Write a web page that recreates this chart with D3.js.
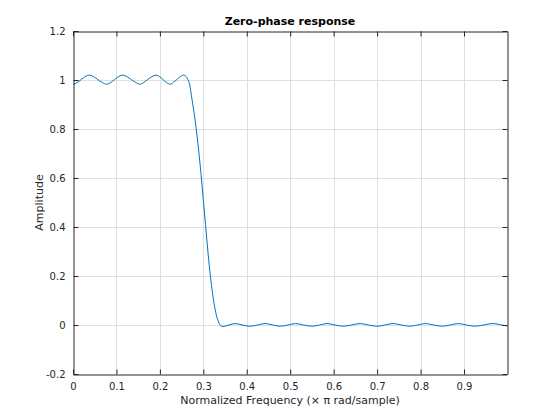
<!DOCTYPE html>
<html><head><meta charset="utf-8">
<script src="https://cdn.jsdelivr.net/npm/d3@7"></script>
<style>body{margin:0;background:#fff}</style>
</head><body>
<svg id="c" width="560" height="420"></svg>
<script>
const freq = [0,0.010,0.019,0.028,0.0376,0.047,0.057,0.067,0.0776,0.087,0.096,0.105,0.114,0.124,0.134,0.144,0.154,0.163,0.172,0.182,0.191,0.199,0.207,0.215,0.2235,0.231,0.239,0.247,0.254,0.260,0.264,0.268,0.274,0.280,0.285,0.290,0.295,0.300,0.305,0.310,0.315,0.320,0.325,0.330,0.335,0.340,0.345,0.359,0.373,0.390,0.407,0.425,0.442,0.460,0.477,0.495,0.512,0.531,0.550,0.568,0.585,0.603,0.622,0.641,0.661,0.680,0.700,0.718,0.737,0.756,0.775,0.793,0.811,0.830,0.850,0.868,0.887,0.906,0.925,0.945,0.965,0.982,0.999];
const amplitude = [0.982,0.990,1.002,1.014,1.020,1.014,1.002,0.990,0.983,0.990,1.002,1.014,1.020,1.014,1.002,0.990,0.983,0.990,1.002,1.014,1.020,1.014,1.002,0.990,0.983,0.990,1.002,1.014,1.020,1.015,1.003,0.985,0.920,0.850,0.780,0.700,0.610,0.510,0.410,0.310,0.220,0.145,0.085,0.040,0.012,-0.003,-0.006,0.000,0.006,0.000,-0.005,0.000,0.006,0.000,-0.005,0.000,0.006,0.000,-0.005,0.000,0.006,0.000,-0.005,0.000,0.006,0.000,-0.005,0.000,0.006,0.000,-0.005,0.000,0.006,0.000,-0.005,0.000,0.006,0.000,-0.005,0.000,0.006,0.002,-0.004];
const xTicks = [0,0.1,0.2,0.3,0.4,0.5,0.6,0.7,0.8,0.9];
const yTicks = [-0.2,0,0.2,0.4,0.6,0.8,1,1.2];
const xTickLabels = ["0","0.1","0.2","0.3","0.4","0.5","0.6","0.7","0.8","0.9"];
const yTickLabels = ["-0.2","0","0.2","0.4","0.6","0.8","1","1.2"];
const titleText = "Zero-phase response";
const xLabel = "Normalized Frequency (\u00d7 \u03c0 rad/sample)";
const yLabel = "Amplitude";

const L=73,R=507,T=31,B=374;
const svg=d3.select("#c");
const font="DejaVu Sans, sans-serif";
const x=d3.scaleLinear().domain([0,0.999]).range([L,R]);
const y=d3.scaleLinear().domain([-0.2,1.2]).range([B,T]);

// grid
const g=svg.append("g");
g.selectAll(".gx").data(xTicks.slice(1)).join("line")
 .attr("x1",d=>Math.round(x(d))+0.5).attr("x2",d=>Math.round(x(d))+0.5)
 .attr("y1",T).attr("y2",B).attr("stroke","#dfdfdf").attr("stroke-width",1);
g.selectAll(".gy").data(yTicks.slice(1,-1)).join("line")
 .attr("y1",d=>Math.round(y(d))+0.5).attr("y2",d=>Math.round(y(d))+0.5)
 .attr("x1",L).attr("x2",R).attr("stroke","#dfdfdf").attr("stroke-width",1);

// line
const line=d3.line().x((d,i)=>x(freq[i])).y(d=>y(d)).curve(d3.curveMonotoneX);
svg.append("path").attr("d",line(amplitude)).attr("fill","none")
 .attr("stroke","#0072BD").attr("stroke-width",1);

// axes
const ax=d3.axisBottom(x).tickValues(xTicks).tickFormat((d,i)=>xTickLabels[i]).tickSizeInner(-5).tickSizeOuter(0).tickPadding(8);
const axT=d3.axisTop(x).tickValues(xTicks).tickFormat("").tickSizeInner(-5).tickSizeOuter(0);
const ay=d3.axisLeft(y).tickValues(yTicks).tickFormat((d,i)=>yTickLabels[i]).tickSizeInner(-5).tickSizeOuter(0).tickPadding(8);
const ayR=d3.axisRight(y).tickValues(yTicks).tickFormat("").tickSizeInner(-5).tickSizeOuter(0);
function style(sel){
  sel.select(".domain").attr("stroke","#262626");
  sel.selectAll(".tick line").attr("stroke","#262626");
  sel.selectAll(".tick text").attr("fill","#262626").attr("font-family",font).attr("font-size","10px");
}
svg.append("g").attr("transform",`translate(0,${B+0.5})`).call(ax).call(style);
svg.append("g").attr("transform",`translate(0,${T+0.5})`).call(axT).call(style);
svg.append("g").attr("transform",`translate(${L+0.5},0)`).call(ay).call(style);
svg.append("g").attr("transform",`translate(${R+0.5},0)`).call(ayR).call(style);
svg.selectAll(".domain").attr("stroke","#262626").attr("fill","none");

svg.append("text").attr("x",290).attr("y",25).attr("text-anchor","middle")
 .attr("font-family",font).attr("font-size","11px").attr("font-weight","bold").attr("fill","#000").text(titleText);
svg.append("text").attr("x",290).attr("y",404).attr("text-anchor","middle")
 .attr("font-family",font).attr("font-size","11px").attr("fill","#262626").text(xLabel);
svg.append("text").attr("transform",`translate(43,${(T+B)/2}) rotate(-90)`).attr("text-anchor","middle")
 .attr("font-family",font).attr("font-size","11px").attr("fill","#262626").text(yLabel);
</script>
</body></html>
